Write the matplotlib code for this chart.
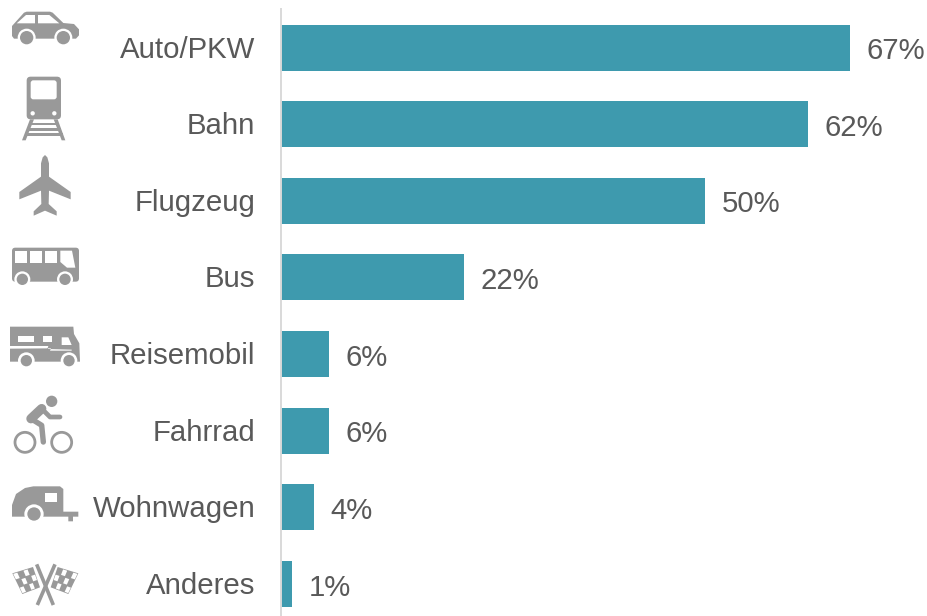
import matplotlib
matplotlib.use('Agg')
import matplotlib.pyplot as plt
from matplotlib.patches import Polygon, Circle, FancyBboxPatch, Rectangle
from matplotlib.transforms import Affine2D

W, H = 927, 616
BAR_COLOR = '#3E9AAE'
TEXT_COLOR = '#595959'
ICON = '#999999'

categories = ['Auto/PKW', 'Bahn', 'Flugzeug', 'Bus', 'Reisemobil', 'Fahrrad', 'Wohnwagen', 'Anderes']
values = [67.0, 62.1, 49.9, 21.5, 5.6, 5.6, 3.9, 1.3]
labels = ['67%', '62%', '50%', '22%', '6%', '6%', '4%', '1%']

plt.rcParams['font.family'] = ['Liberation Sans', 'DejaVu Sans']

fig = plt.figure(figsize=(W / 100, H / 100), dpi=100, facecolor='white')

# bar area runs past the bottom edge, the last slot is cut off in the original
top, bottom = 9.2, 622.4
ax = fig.add_axes([281 / W, 1 - bottom / H, (W - 281) / W, (bottom - top) / H])
ypos = list(range(len(categories)))
ax.barh(ypos, values, height=0.6, color=BAR_COLOR)
ax.set_xlim(0, (W - 281) / 8.49)
ax.set_ylim(len(categories) - 0.5, -0.5)
ax.set_yticks(ypos)
ax.set_yticklabels(categories, fontsize=21.2, color=TEXT_COLOR)
ax.tick_params(axis='y', length=0, pad=18.5)
for lab in ax.get_yticklabels():
    lab.set_transform(lab.get_transform() + Affine2D().translate(0, 1))
ax.set_xticks([])
for s in ['top', 'right', 'bottom']:
    ax.spines[s].set_visible(False)
ax.spines['left'].set_color('#D9D9D9')
ax.spines['left'].set_linewidth(1.4)
for y, v, t in zip(ypos, values, labels):
    ax.annotate(t, (v, y), xytext=(12, -2.5), textcoords='offset points', va='center',
                ha='left', fontsize=21.2, color=TEXT_COLOR)

# icons, in units of 1/3 pixel from the top left corner
ic = fig.add_axes([0, 0, 1, 1], facecolor='none')
ic.set_xlim(0, W * 3)
ic.set_ylim(H * 3, 0)
ic.axis('off')


def poly(pts, color=ICON):
    ic.add_patch(Polygon(pts, closed=True, fc=color, ec='none'))


def rrect(x0, y0, x1, y1, r=8, color=ICON):
    ic.add_patch(FancyBboxPatch((x0 + r, y0 + r), x1 - x0 - 2 * r, y1 - y0 - 2 * r,
                                boxstyle=f'round,pad={r},rounding_size={r}', fc=color, ec='none'))


def wheel(x, y, r, ring):
    ic.add_patch(Circle((x, y), ring, fc='white', ec='none'))
    ic.add_patch(Circle((x, y), r, fc=ICON, ec='none'))


def stroke(xs, ys, lw, cap='round'):
    ic.plot(xs, ys, color=ICON, lw=lw, solid_capstyle=cap, solid_joinstyle='round')


# car
poly([(36, 78), (72, 38), (80, 35), (150, 35), (158, 38), (190, 69), (222, 72), (237, 88),
      (237, 106), (228, 116), (42, 116), (36, 108)])
poly([(50, 70), (78, 45), (105, 45), (105, 70)], 'white')
poly([(114, 45), (148, 45), (178, 70), (114, 70)], 'white')
wheel(80, 113, 20, 27)
wheel(190, 113, 20, 27)

# train
rrect(80, 230, 183, 358, 12)
rrect(92, 241, 170, 298, 8, 'white')
ic.add_patch(Circle((98, 340), 6.5, fc='white', ec='none'))
ic.add_patch(Circle((163, 340), 6.5, fc='white', ec='none'))
poly([(90, 358), (102, 358), (77, 421), (66, 421)])
poly([(161, 358), (173, 358), (196, 421), (185, 421)])
for y0, y1, x0, x1 in [(368, 376, 86, 176), (384, 392, 80, 182), (400, 408, 74, 188)]:
    ic.add_patch(Rectangle((x0, y0), x1 - x0, y1 - y0, fc=ICON, ec='none'))

# plane
poly([(135, 465), (142, 472), (147, 490), (147, 530), (212, 576), (212, 598), (147, 572),
      (146, 612), (170, 634), (170, 647), (135, 632), (101, 647), (101, 634), (124, 612),
      (123, 572), (58, 598), (58, 576), (123, 530), (123, 490), (128, 472)])

# bus
rrect(36, 743, 237, 845, 10)
for x0, x1 in [(46, 82), (90, 127), (135, 172)]:
    ic.add_patch(Rectangle((x0, 752), x1 - x0, 38, fc='white', ec='none'))
poly([(181, 752), (216, 752), (226, 803), (201, 803), (181, 786)], 'white')
wheel(67, 838, 17, 24)
wheel(195, 838, 17, 24)

# motorhome
o = 930
poly([(30, o + 50), (220, o + 50), (222, o + 72), (238, o + 100), (240, o + 155), (30, o + 155)])
poly([(30, o + 108), (145, o + 108), (142, o + 117), (215, o + 119), (215, o + 122), (150, o + 122),
      (153, o + 115), (30, o + 116)], 'white')
ic.add_patch(Rectangle((55, o + 78), 47, 17, fc='white', ec='none'))
ic.add_patch(Rectangle((130, o + 78), 27, 17, fc='white', ec='none'))
poly([(185, o + 82), (205, o + 82), (215, o + 105), (185, o + 105)], 'white')
wheel(79, o + 152, 17, 25)
wheel(207, o + 152, 17, 25)

# bicycle
for x in [75, 185]:
    ic.add_patch(Circle((x, o + 397), 30, fc='none', ec=ICON, lw=2.0))
ic.add_patch(Circle((155, o + 274), 17, fc=ICON, ec='none'))
stroke([125, 93], [o + 296, o + 326], 6.8)
stroke([93, 125, 130], [o + 326, o + 346, o + 396], 3.9)
stroke([125, 150, 180], [o + 296, o + 321, o + 321], 3.4)

# caravan
poly([(36, o + 620), (36, o + 585), (48, o + 552), (75, o + 534), (100, o + 529), (180, o + 529),
      (190, o + 537), (190, o + 605), (235, o + 605), (235, o + 620), (219, o + 620), (219, o + 634),
      (205, o + 634), (205, o + 620)])
ic.add_patch(Rectangle((135, o + 550), 35, 25, fc='white', ec='none'))
wheel(102, o + 612, 20, 29)


# crossed flags
def lerp(a, b, t):
    return (a[0] + (b[0] - a[0]) * t, a[1] + (b[1] - a[1]) * t)


def quad_point(q, u, v):
    return lerp(lerp(q[0], q[1], u), lerp(q[3], q[2], u), v)


def flag(q, pole):
    stroke(pole[0], pole[1], 2.6, cap='butt')
    poly(q)
    n, m = 4, 3
    for i in range(n):
        for j in range(m):
            if (i + j) % 2 == 0:
                poly([quad_point(q, (i + 0.1) / n, (j + 0.1) / m), quad_point(q, (i + 0.9) / n, (j + 0.1) / m),
                      quad_point(q, (i + 0.9) / n, (j + 0.9) / m), quad_point(q, (i + 0.1) / n, (j + 0.9) / m)],
                     'white')


fy = o + 735
flag([(37, fy + 55), (99, fy + 36), (120, fy + 97), (67, fy + 117)],
     ([110, 160], [fy + 28, fy + 150]))
flag([(235, fy + 55), (173, fy + 36), (152, fy + 97), (205, fy + 117)],
     ([165, 112], [fy + 28, fy + 150]))

fig.savefig('out.png', dpi=100, facecolor='white')
plt.close(fig)
